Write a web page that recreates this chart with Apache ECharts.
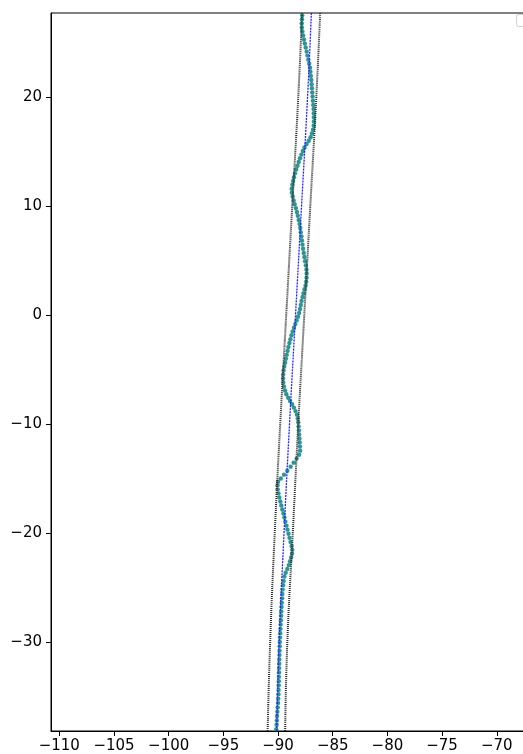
<!DOCTYPE html>
<html>
<head>
<meta charset="utf-8">
<script src="https://cdn.jsdelivr.net/npm/echarts@6/dist/echarts.min.js"></script>
<style>
html,body{margin:0;padding:0;background:#fff;overflow:hidden;}
#chart{width:540px;height:754px;}
</style>
</head>
<body>
<div id="chart"></div>
<script>
// Axis tick labels
const xTicks = [-110, -105, -100, -95, -90, -85, -80, -75, -70];
const yTicks = [-30, -20, -10, 0, 10, 20];
const xRange = [-110.76, -66.32];
const yRange = [-38.17, 27.7];

// Centre line and the two boundary lines (sampled at latitudes)
const coneLat   = [-38.17, -30, -20, -10, 0, 10, 20, 27.7];
const centerLon = [-90.12, -89.9, -89.45, -88.95, -88.4, -87.85, -87.3, -86.95];
const leftLon   = [-90.95, -90.72, -90.3, -89.8, -89.25, -88.7, -88.15, -87.8];
const rightLon  = [-89.35, -89.15, -88.65, -88.15, -87.6, -87.05, -86.5, -86.15];

// Track points (teal dots)
const tealLon = [
-90.16,-90.13,-90.11,-90.09,-90.06,-90.03,-90.0,-89.98,-89.96,-89.95,-89.94,-89.93,-89.92,-89.91,-89.9,-89.89,-89.88,-89.87,-89.86,-89.85,-89.84,-89.82,-89.8,-89.78,-89.76,-89.74,-89.72,-89.7,-89.68,-89.66,-89.63,-89.61,
-89.58,-89.54,-89.49,-89.42,-89.3,-89.15,-89.02,-88.9,-88.8,-88.72,-88.7,
-88.76,-88.86,-88.95,-89.04,-89.14,-89.23,-89.33,-89.42,-89.51,-89.61,-89.7,-89.79,-89.88,-89.96,-90.03,-90.05,
-90.0,-89.75,-89.45,-89.15,-88.85,-88.57,-88.3,-88.08,-87.98,
-88.0,-88.02,-88.04,-88.07,-88.09,-88.12,-88.15,-88.2,-88.27,-88.4,-88.55,-88.72,-88.9,-89.07,-89.24,-89.36,-89.46,-89.52,-89.54,-89.53,-89.49,
-89.43,-89.35,-89.28,-89.2,-89.13,-89.05,-88.96,-88.87,-88.77,-88.66,-88.54,-88.42,-88.3,-88.18,-88.07,-87.99,-87.92,-87.85,-87.76,-87.67,-87.58,-87.48,-87.42,-87.39,-87.38,-87.4,
-87.46,-87.53,-87.59,-87.65,-87.71,-87.76,-87.81,-87.86,-87.92,-87.97,-88.03,-88.11,-88.19,-88.27,-88.37,-88.48,-88.57,-88.66,-88.73,-88.75,-88.69,
-88.62,-88.54,-88.45,-88.34,-88.22,-88.11,-87.99,-87.86,-87.73,-87.58,-87.39,-87.19,-87.02,-86.9,-86.8,-86.74,-86.72,
-86.72,-86.73,-86.75,-86.78,-86.81,-86.84,-86.87,-86.9,-86.93,-86.96,-87.0,-87.04,-87.08,-87.15,-87.23,-87.31,-87.38,-87.47,-87.55,-87.63,-87.71,-87.77,-87.82,-87.83,-87.81,-87.79
];
const tealLat = [
-38.0,-37.6,-37.2,-36.8,-36.4,-36.0,-35.6,-35.2,-34.8,-34.4,-34.0,-33.6,-33.2,-32.8,-32.4,-32.0,-31.6,-31.2,-30.8,-30.4,-30.0,-29.6,-29.2,-28.8,-28.4,-28.0,-27.6,-27.2,-26.8,-26.4,-26.0,-25.6,
-25.2,-24.8,-24.4,-24.0,-23.65,-23.3,-22.95,-22.6,-22.25,-21.9,-21.55,
-21.2,-20.82,-20.45,-20.08,-19.7,-19.33,-18.96,-18.59,-18.22,-17.85,-17.48,-17.11,-16.74,-16.37,-16.0,-15.62,
-15.3,-15.0,-14.65,-14.3,-13.92,-13.55,-13.18,-12.82,-12.45,
-12.08,-11.7,-11.33,-10.96,-10.59,-10.22,-9.85,-9.5,-9.15,-8.82,-8.5,-8.2,-7.9,-7.6,-7.28,-6.93,-6.57,-6.2,-5.83,-5.46,-5.1,
-4.74,-4.38,-4.02,-3.66,-3.3,-2.94,-2.58,-2.22,-1.87,-1.52,-1.18,-0.84,-0.5,-0.16,0.18,0.55,0.92,1.29,1.65,2.0,2.35,2.7,3.05,3.42,3.8,4.17,
4.55,4.93,5.31,5.69,6.07,6.45,6.83,7.21,7.59,7.97,8.35,8.72,9.09,9.45,9.8,10.15,10.5,10.86,11.22,11.58,11.94,
12.29,12.64,12.99,13.34,13.69,14.03,14.37,14.71,15.04,15.36,15.68,15.98,16.3,16.64,17.0,17.37,17.75,
18.13,18.51,18.89,19.27,19.65,20.03,20.41,20.79,21.17,21.55,21.93,22.31,22.68,23.05,23.42,23.79,24.16,24.53,24.9,25.27,25.64,26.01,26.38,26.75,27.12,27.5
];

const pair = (xs, ys) => xs.map((x, i) => [x, ys[i]]);
const fmt = v => String(v).replace('-', '\u2212');
const FONT = 'DejaVu Sans';

const chart = echarts.init(document.getElementById('chart'), null, {renderer: 'canvas'});
chart.setOption({
  animation: false,
  backgroundColor: '#fff',
  grid: {left: 51, top: 13, right: 3, bottom: 23, show: true, borderColor: '#000', borderWidth: 1, backgroundColor: 'transparent'},
  xAxis: {
    type: 'value', min: xRange[0], max: xRange[1],
    axisLine: {show: true, onZero: false, lineStyle: {color: '#000', width: 1}},
    axisTick: {show: true, length: 5, lineStyle: {color: '#000', width: 1}, customValues: xTicks},
    axisLabel: {show: true, margin: 8, color: '#000', fontFamily: FONT, fontSize: 15, customValues: xTicks, formatter: fmt},
    splitLine: {show: false}
  },
  yAxis: {
    type: 'value', min: yRange[0], max: yRange[1],
    axisLine: {show: true, onZero: false, lineStyle: {color: '#000', width: 1}},
    axisTick: {show: true, length: 5, lineStyle: {color: '#000', width: 1}, customValues: yTicks},
    axisLabel: {show: true, margin: 9, color: '#000', fontFamily: FONT, fontSize: 15, customValues: yTicks, formatter: fmt},
    splitLine: {show: false}
  },
  series: [
    {
      type: 'scatter', data: pair(tealLon, tealLat), symbol: 'circle', symbolSize: 4.4,
      itemStyle: {color: '#238f8f', opacity: 0.95}, clip: true, z: 2
    },
    {
      type: 'line', data: pair(centerLon, coneLat), showSymbol: false, symbol: 'none', smooth: true,
      lineStyle: {color: '#2222ff', width: 1.3, type: [2, 1]}, z: 3
    },
    {
      type: 'line', data: pair(leftLon, coneLat), showSymbol: false, symbol: 'none', smooth: true,
      lineStyle: {color: '#262626', width: 2, type: [1, 1]}, z: 4
    },
    {
      type: 'line', data: pair(rightLon, coneLat), showSymbol: false, symbol: 'none', smooth: true,
      lineStyle: {color: '#262626', width: 2, type: [1, 1]}, z: 4
    }
  ],
  graphic: [
    {type: 'rect', left: 516, top: 14, shape: {width: 14, height: 12, r: 2}, style: {fill: '#fff', stroke: '#d0d0d0', lineWidth: 1}, z: 10}
  ]
});
</script>
</body>
</html>
